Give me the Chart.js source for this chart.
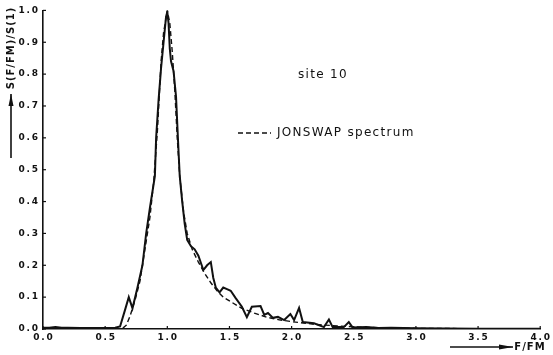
<!DOCTYPE html>
<html>
<head>
<meta charset="utf-8">
<script src="https://cdn.jsdelivr.net/npm/chart.js@4.4.0/dist/chart.umd.min.js"></script>
<style>
  html, body { margin: 0; padding: 0; background: #fff; }
  #wrap { width: 553px; height: 355px; }
</style>
</head>
<body>
<div id="wrap"><canvas id="specChart" width="553" height="355"></canvas></div>
<script>
"use strict";

// measured spectrum, site 10 (f/fm vs S(f/fm)/S(1))
var obsF = [0.00, 0.05, 0.10, 0.15, 0.20, 0.30, 0.40, 0.50, 0.58, 0.62, 0.66, 0.69, 0.72, 0.76, 0.80, 0.83, 0.86, 0.88, 0.90,
            0.91, 0.93, 0.95, 0.97, 0.99, 1.00, 1.01, 1.02, 1.03, 1.05, 1.07, 1.09, 1.10, 1.12, 1.14, 1.16, 1.19, 1.22, 1.25,
            1.29, 1.32, 1.35, 1.37, 1.39, 1.42, 1.45, 1.48, 1.51, 1.55, 1.60, 1.64, 1.68, 1.75, 1.78, 1.81, 1.85, 1.89, 1.94,
            1.99, 2.02, 2.06, 2.09, 2.18, 2.26, 2.30, 2.33, 2.42, 2.46, 2.49, 2.60, 2.70, 2.80, 3.00, 3.50, 4.00];
var obsS = [0.004, 0.004, 0.006, 0.004, 0.004, 0.003, 0.003, 0.003, 0.004, 0.008, 0.06, 0.10, 0.065, 0.13, 0.20, 0.30, 0.38, 0.43, 0.48,
            0.60, 0.72, 0.82, 0.90, 0.98, 0.995, 0.96, 0.88, 0.84, 0.81, 0.73, 0.56, 0.48, 0.40, 0.33, 0.28, 0.26, 0.25, 0.23,
            0.185, 0.20, 0.21, 0.16, 0.13, 0.115, 0.13, 0.125, 0.12, 0.097, 0.07, 0.037, 0.07, 0.072, 0.044, 0.05, 0.035, 0.038, 0.028,
            0.047, 0.028, 0.066, 0.022, 0.018, 0.006, 0.03, 0.006, 0.006, 0.022, 0.005, 0.006, 0.003, 0.004, 0.002, 0.001, 0.001];

// JONSWAP spectrum
var jonF = [0.00, 0.60, 0.64, 0.67, 0.70, 0.74, 0.78, 0.82, 0.86, 0.89, 0.92, 0.95, 0.97, 1.00, 1.02, 1.04, 1.06, 1.08, 1.10,
            1.13, 1.16, 1.20, 1.25, 1.30, 1.35, 1.40, 1.45, 1.50, 1.60, 1.70, 1.80, 1.90, 2.00, 2.20, 2.40, 2.60, 3.00, 3.50, 4.00];
var jonS = [0.0, 0.0, 0.002, 0.012, 0.04, 0.09, 0.15, 0.25, 0.35, 0.46, 0.62, 0.84, 0.93, 1.00, 0.96, 0.87, 0.75, 0.60, 0.48,
            0.37, 0.30, 0.25, 0.21, 0.175, 0.145, 0.12, 0.10, 0.088, 0.065, 0.05, 0.037, 0.029, 0.023, 0.014, 0.009, 0.005, 0.002, 0.001, 0.0005];

var xTicks = [0, 0.5, 1, 1.5, 2, 2.5, 3, 3.5, 4];
var yTicks = [0, 0.1, 0.2, 0.3, 0.4, 0.5, 0.6, 0.7, 0.8, 0.9, 1.0];

function toPoints(xs, ys) {
    var pts = [];
    for (var i = 0; i < xs.length; i++) {
        pts.push({ x: xs[i], y: ys[i] });
    }
    return pts;
}

function spaced(v) {
    // typewriter style labels: "0 . 5"
    var s = v.toFixed(1);
    return s.charAt(0) + "\u2009.\u2009" + s.charAt(2);
}

function arrow(ctx, x1, y1, x2, y2, head) {
    var a = Math.atan2(y2 - y1, x2 - x1);
    ctx.beginPath();
    ctx.moveTo(x1, y1);
    ctx.lineTo(x2, y2);
    ctx.stroke();
    ctx.beginPath();
    ctx.moveTo(x2, y2);
    ctx.lineTo(x2 - head * Math.cos(a) + 2.5 * Math.sin(a), y2 - head * Math.sin(a) - 2.5 * Math.cos(a));
    ctx.lineTo(x2 - head * Math.cos(a) - 2.5 * Math.sin(a), y2 - head * Math.sin(a) + 2.5 * Math.cos(a));
    ctx.closePath();
    ctx.fill();
}

// ticks pointing inward, axis captions, legend text
var decor = {
    id: 'decor',
    afterDraw: function (chart) {
        var ctx = chart.ctx;
        var xs = chart.scales.x, ys = chart.scales.y;
        var area = chart.chartArea;
        ctx.save();
        ctx.strokeStyle = '#111';
        ctx.fillStyle = '#111';
        ctx.lineWidth = 1.2;
        yTicks.forEach(function (v) {
            var py = ys.getPixelForValue(v);
            ctx.beginPath();
            ctx.moveTo(area.left, py);
            ctx.lineTo(area.left + 3, py);
            ctx.stroke();
        });
        xTicks.forEach(function (v) {
            var px = xs.getPixelForValue(v);
            ctx.beginPath();
            ctx.moveTo(px, area.bottom);
            ctx.lineTo(px, area.bottom - 3);
            ctx.stroke();
        });

        // y caption with arrow
        ctx.font = 'bold 10px "DejaVu Sans"';
        ctx.letterSpacing = '1px';
        ctx.textAlign = 'center';
        ctx.textBaseline = 'middle';
        ctx.save();
        ctx.translate(11, 48);
        ctx.rotate(-Math.PI / 2);
        ctx.fillText('S(F/FM)/S(1)', 0, 0);
        ctx.restore();
        ctx.lineWidth = 1.6;
        arrow(ctx, 11, 158, 11, 94, 12);

        // x caption with arrow
        ctx.fillText('F/FM', 530, 347);
        arrow(ctx, 450, 347, 513, 347, 14);

        // site label and legend
        ctx.font = '12px "DejaVu Sans"';
        ctx.letterSpacing = '1.3px';
        ctx.textAlign = 'left';
        ctx.fillText('site 10', 298, 75);
        ctx.fillText('JONSWAP spectrum', 277, 133);
        ctx.lineWidth = 1.4;
        ctx.setLineDash([5, 3]);
        ctx.beginPath();
        ctx.moveTo(238, 133);
        ctx.lineTo(271, 133);
        ctx.stroke();
        ctx.restore();
    }
};

var ctx = document.getElementById('specChart');
var myChart = new Chart(ctx, {
    type: 'line',
    data: {
        datasets: [{
            label: 'site 10',
            data: toPoints(obsF, obsS),
            borderColor: '#111',
            borderWidth: 2,
            pointRadius: 0,
            tension: 0,
            fill: false
        }, {
            label: 'JONSWAP spectrum',
            data: toPoints(jonF, jonS),
            borderColor: '#111',
            borderWidth: 1.4,
            borderDash: [5, 3],
            pointRadius: 0,
            tension: 0,
            fill: false
        }]
    },
    options: {
        responsive: false,
        animation: false,
        layout: { padding: { top: 10, right: 8, left: 0, bottom: 0 } },
        plugins: {
            legend: { display: false },
            tooltip: { enabled: false }
        },
        scales: {
            x: {
                type: 'linear',
                min: 0,
                max: 4,
                afterBuildTicks: function (scale) {
                    scale.ticks = xTicks.map(function (v) { return { value: v }; });
                },
                afterFit: function (scale) { scale.height = 26; },
                grid: { display: false, drawTicks: false },
                border: { display: true, color: '#111', width: 1.6 },
                ticks: {
                    padding: 3,
                    color: '#111',
                    font: { family: 'DejaVu Sans', size: 9, weight: 'bold' },
                    maxRotation: 0,
                    callback: function (v) { return spaced(v); }
                }
            },
            y: {
                min: 0,
                max: 1,
                afterBuildTicks: function (scale) {
                    scale.ticks = yTicks.map(function (v) { return { value: v }; });
                },
                afterFit: function (scale) { scale.width = 43; },
                grid: { display: false, drawTicks: false },
                border: { display: true, color: '#111', width: 1.6 },
                ticks: {
                    padding: 5,
                    color: '#111',
                    font: { family: 'DejaVu Sans', size: 9, weight: 'bold' },
                    callback: function (v) { return spaced(v); }
                }
            }
        }
    },
    plugins: [decor]
});
</script>
</body>
</html>
